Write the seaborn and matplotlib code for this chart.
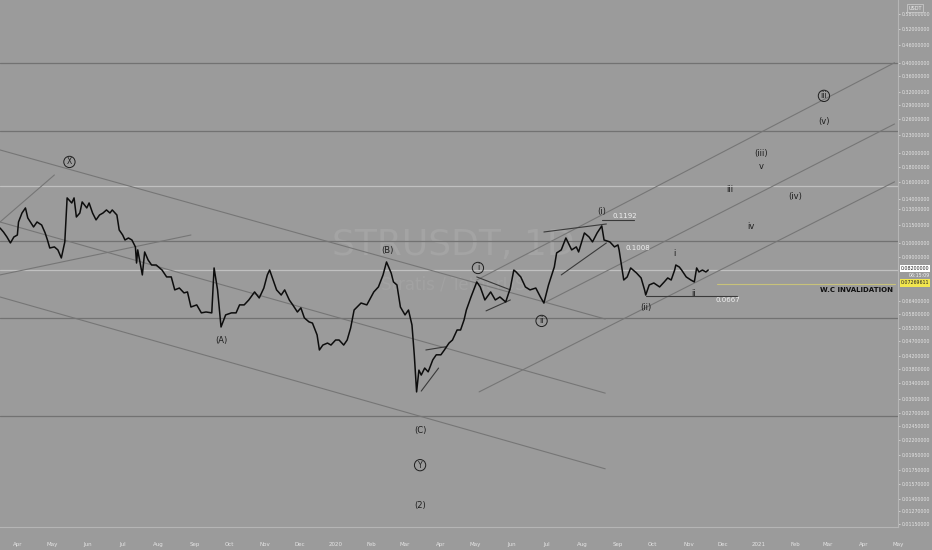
import matplotlib
matplotlib.use("Agg")
import pandas as pd
import matplotlib.pyplot as plt
import matplotlib.transforms as mtrans
import seaborn as sns

dates = [
    "2019-03-17", "2019-03-20", "2019-03-23", "2019-03-26", "2019-03-29", "2019-04-01", "2019-04-02",
    "2019-04-05", "2019-04-08", "2019-04-10", "2019-04-15", "2019-04-18", "2019-04-22", "2019-04-25",
    "2019-04-27", "2019-04-29", "2019-05-03", "2019-05-06", "2019-05-09", "2019-05-12", "2019-05-14",
    "2019-05-18", "2019-05-20", "2019-05-22", "2019-05-25", "2019-05-27", "2019-05-31", "2019-06-02",
    "2019-06-05", "2019-06-08", "2019-06-11", "2019-06-14", "2019-06-17", "2019-06-20", "2019-06-22",
    "2019-06-26", "2019-06-28", "2019-07-01", "2019-07-03", "2019-07-06", "2019-07-09", "2019-07-12",
    "2019-07-13", "2019-07-14", "2019-07-18", "2019-07-20", "2019-07-23", "2019-07-26", "2019-07-30",
    "2019-08-04", "2019-08-08", "2019-08-12", "2019-08-15", "2019-08-19", "2019-08-23", "2019-08-26",
    "2019-08-29", "2019-09-03", "2019-09-07", "2019-09-11", "2019-09-16", "2019-09-18", "2019-09-21",
    "2019-09-24", "2019-09-28", "2019-10-03", "2019-10-07", "2019-10-10", "2019-10-14", "2019-10-18",
    "2019-10-23", "2019-10-27", "2019-10-31", "2019-11-03", "2019-11-05", "2019-11-08", "2019-11-11",
    "2019-11-15", "2019-11-18", "2019-11-22", "2019-11-25", "2019-11-29", "2019-12-02", "2019-12-05",
    "2019-12-09", "2019-12-12", "2019-12-16", "2019-12-18", "2019-12-21", "2019-12-25", "2019-12-28",
    "2020-01-01", "2020-01-04", "2020-01-08", "2020-01-11", "2020-01-14", "2020-01-17", "2020-01-23",
    "2020-01-28", "2020-02-03", "2020-02-07", "2020-02-11", "2020-02-14", "2020-02-18", "2020-02-20",
    "2020-02-23", "2020-02-26", "2020-03-01", "2020-03-04", "2020-03-07", "2020-03-09", "2020-03-11",
    "2020-03-13", "2020-03-15", "2020-03-18", "2020-03-21", "2020-03-25", "2020-03-28", "2020-04-01",
    "2020-04-04", "2020-04-08", "2020-04-11", "2020-04-15", "2020-04-18", "2020-04-21", "2020-04-23",
    "2020-04-27", "2020-05-02", "2020-05-05", "2020-05-09", "2020-05-14", "2020-05-18", "2020-05-22",
    "2020-05-27", "2020-05-31", "2020-06-03", "2020-06-05", "2020-06-09", "2020-06-13", "2020-06-17",
    "2020-06-22", "2020-06-26", "2020-06-29", "2020-07-03", "2020-07-08", "2020-07-10", "2020-07-14",
    "2020-07-18", "2020-07-23", "2020-07-27", "2020-07-29", "2020-08-03", "2020-08-07", "2020-08-10",
    "2020-08-14", "2020-08-18", "2020-08-20", "2020-08-25", "2020-08-29", "2020-09-01", "2020-09-02",
    "2020-09-05", "2020-09-06", "2020-09-09", "2020-09-12", "2020-09-17", "2020-09-21", "2020-09-24",
    "2020-09-25", "2020-09-28", "2020-10-02", "2020-10-07", "2020-10-11", "2020-10-14", "2020-10-17",
    "2020-10-20", "2020-10-21", "2020-10-24", "2020-10-26", "2020-10-30", "2020-11-03", "2020-11-06",
    "2020-11-08", "2020-11-10", "2020-11-13", "2020-11-16", "2020-11-18",
]
prices = [
    0.1122, 0.1088, 0.1047, 0.1000, 0.1047, 0.1063, 0.1175,
    0.1259, 0.1309, 0.1212, 0.1131, 0.1175, 0.1148, 0.1080,
    0.1023, 0.0962, 0.0970, 0.0948, 0.0891, 0.1008, 0.1414,
    0.1360, 0.1414, 0.1221, 0.1259, 0.1371, 0.1309, 0.1360,
    0.1259, 0.1194, 0.1240, 0.1259, 0.1289, 0.1259, 0.1289,
    0.1240, 0.1105, 0.1063, 0.1023, 0.1039, 0.1023, 0.0970,
    0.0857, 0.0948, 0.0782, 0.0933, 0.0877, 0.0844, 0.0844,
    0.0812, 0.0770, 0.0770, 0.0697, 0.0707, 0.0681, 0.0686,
    0.0611, 0.0621, 0.0584, 0.0588, 0.0584, 0.0825, 0.0697,
    0.0524, 0.0575, 0.0584, 0.0584, 0.0621, 0.0621, 0.0645,
    0.0686, 0.0655, 0.0707, 0.0782, 0.0812, 0.0752, 0.0697,
    0.0670, 0.0697, 0.0645, 0.0621, 0.0588, 0.0607, 0.0562,
    0.0545, 0.0540, 0.0493, 0.0439, 0.0456, 0.0463, 0.0456,
    0.0474, 0.0474, 0.0456, 0.0474, 0.0520, 0.0597, 0.0630,
    0.0621, 0.0686, 0.0713, 0.0782, 0.0864, 0.0794, 0.0741,
    0.0724, 0.0611, 0.0575, 0.0597, 0.0532, 0.0423, 0.0318,
    0.0376, 0.0362, 0.0382, 0.0371, 0.0407, 0.0423, 0.0423,
    0.0439, 0.0463, 0.0474, 0.0512, 0.0512, 0.0553, 0.0597,
    0.0660, 0.0741, 0.0713, 0.0645, 0.0686, 0.0645, 0.0660,
    0.0635, 0.0707, 0.0812, 0.0800, 0.0770, 0.0713, 0.0697,
    0.0707, 0.0660, 0.0630, 0.0724, 0.0831, 0.0926, 0.0948,
    0.1039, 0.0948, 0.0970, 0.0933, 0.1080, 0.1047, 0.1008,
    0.1080, 0.1140, 0.1023, 0.1008, 0.0970, 0.0985, 0.0948,
    0.0800, 0.0752, 0.0770, 0.0825, 0.0794, 0.0764, 0.0697,
    0.0670, 0.0724, 0.0735, 0.0713, 0.0741, 0.0764, 0.0752,
    0.0812, 0.0844, 0.0831, 0.0812, 0.0770, 0.0752, 0.0741,
    0.0825, 0.0800, 0.0812, 0.0800, 0.0812,
]

# horizontal levels (price, shade)
levels = [0.40, 0.2367, 0.155, 0.1015, 0.0812, 0.0562, 0.0264]
level_light = [False, False, True, False, True, False, False]

# trend / channel lines: (start date, start price, end date, end price)
trend_lines = [
    ("2019-03-17", 0.2045, "2020-08-21", 0.0557),
    ("2019-03-17", 0.1175, "2020-08-21", 0.0315),
    ("2019-03-17", 0.0660, "2020-08-21", 0.0176),
    ("2019-03-17", 0.1175, "2019-05-03", 0.1687),
    ("2019-03-17", 0.0782, "2019-08-29", 0.1063),
    ("2020-05-02", 0.0752, "2021-04-28", 0.4000),
    ("2020-06-29", 0.0630, "2021-04-28", 0.2497),
    ("2020-05-04", 0.0318, "2021-04-28", 0.1600),
]
short_lines = [
    ("2020-06-29", 0.1088, "2020-08-22", 0.1157),
    ("2020-07-14", 0.0782, "2020-08-22", 0.1000),
    ("2020-08-18", 0.1192, "2020-09-15", 0.1192),
    ("2020-09-25", 0.0667, "2020-12-13", 0.0667),
    ("2020-05-02", 0.0770, "2020-05-31", 0.0697),
    ("2020-05-10", 0.0593, "2020-05-31", 0.0645),
    ("2020-03-15", 0.0320, "2020-03-30", 0.0382),
    ("2020-03-19", 0.0439, "2020-04-05", 0.0450),
]

# wave counts: (text, date, price, circled)
wave_labels = [
    ("X", "2019-05-16", 0.1865, True),
    ("(A)", "2019-09-24", 0.0474, False),
    ("(B)", "2020-02-15", 0.0940, False),
    ("(C)", "2020-03-14", 0.0237, False),
    ("Y", "2020-03-14", 0.0181, True),
    ("(2)", "2020-03-14", 0.0133, False),
    ("i", "2020-05-03", 0.0825, True),
    ("ii", "2020-06-27", 0.0549, True),
    ("(i)", "2020-08-18", 0.1269, False),
    ("(ii)", "2020-09-25", 0.0611, False),
    ("i", "2020-10-20", 0.0919, False),
    ("ii", "2020-11-05", 0.0676, False),
    ("iii", "2020-12-07", 0.1503, False),
    ("iv", "2020-12-25", 0.1131, False),
    ("(iii)", "2021-01-03", 0.1983, False),
    ("v", "2021-01-03", 0.1795, False),
    ("(iv)", "2021-02-01", 0.1424, False),
    ("(v)", "2021-02-26", 0.2537, False),
    ("iii", "2021-02-26", 0.3100, True),
]
level_notes = [
    ("0.1192", "2020-09-07", 0.1230),
    ("0.1008", "2020-09-18", 0.0962),
    ("0.0667", "2020-12-05", 0.0645),
]

price_ticks = [0.58, 0.52, 0.46, 0.40, 0.36, 0.32, 0.29, 0.26, 0.23, 0.20, 0.18, 0.16,
               0.14, 0.13, 0.115, 0.10, 0.09, 0.064, 0.058, 0.052, 0.047, 0.042, 0.038,
               0.034, 0.030, 0.027, 0.0245, 0.022, 0.0195, 0.0175, 0.0157, 0.014,
               0.0127, 0.0115]
month_ticks = pd.date_range("2019-04-01", "2021-05-01", freq="MS")
month_labels = ["Apr", "May", "Jun", "Jul", "Aug", "Sep", "Oct", "Nov", "Dec", "2020",
                "Feb", "Mar", "Apr", "May", "Jun", "Jul", "Aug", "Sep", "Oct", "Nov", "Dec",
                "2021", "Feb", "Mar", "Apr", "May"]

bg = "#9b9b9b"
dark_line = "#727272"
light_line = "#c0c0c0"
axis_text = "#e4e4e4"

sns.set_theme(style="white")
plt.rcParams["font.family"] = ["DejaVu Sans"]

fig = plt.figure(figsize=(9.32, 5.5), dpi=100)
fig.patch.set_facecolor(bg)
ax = fig.add_axes([0, 23 / 550, 898 / 932, 527 / 550])
ax.set_facecolor(bg)

df = pd.DataFrame({"date": pd.to_datetime(dates), "price": prices})

ax.set_yscale("log")
x0, x1 = pd.Timestamp("2019-03-17"), pd.Timestamp("2021-04-28")
ax.set_xlim(x0, x1)
ax.set_ylim(0.01125, 0.648)

# watermark
ax.text(0.505, 0.535, "STRUSDT, 1D", transform=ax.transAxes, ha="center", va="center",
        fontsize=26, color="#a4a4a4", zorder=0)
ax.text(0.505, 0.46, "Stratis / TetherUS", transform=ax.transAxes, ha="center", va="center",
        fontsize=12, color="#a2a2a2", zorder=0)

for lv, light in zip(levels, level_light):
    ax.axhline(lv, color=light_line if light else dark_line, lw=0.9, zorder=1)

for d0, p0, d1, p1 in trend_lines:
    ax.plot([pd.Timestamp(d0), pd.Timestamp(d1)], [p0, p1], color="#767676", lw=0.8, zorder=1)
for d0, p0, d1, p1 in short_lines:
    ax.plot([pd.Timestamp(d0), pd.Timestamp(d1)], [p0, p1], color="#3a3a3a", lw=0.8, zorder=2)

# W.C invalidation level
ax.plot([pd.Timestamp("2020-11-26"), x1], [0.0727, 0.0727], color="#c8c27a", lw=0.8, zorder=2)
ax.text(x1 - pd.Timedelta(days=1), 0.0697, "W.C INVALIDATION", ha="right", va="center",
        fontsize=5, fontweight="bold", color="#111111")

sns.lineplot(data=df, x="date", y="price", color="#0d0d0d", lw=1.1, estimator=None, ax=ax, zorder=3)

for txt, d, p, circled in wave_labels:
    if circled:
        ax.text(pd.Timestamp(d), p, txt, ha="center", va="center", fontsize=5.5, color="#1e1e1e",
                bbox=dict(boxstyle="circle,pad=0.15", fc="none", ec="#1e1e1e", lw=0.7))
    else:
        ax.text(pd.Timestamp(d), p, txt, ha="center", va="center", fontsize=6, color="#1e1e1e")

for txt, d, p in level_notes:
    ax.text(pd.Timestamp(d), p, txt, ha="center", va="center", fontsize=5, color="#f0f0f0")

# axes styling
ax.set_xlabel("")
ax.set_ylabel("")
ax.yaxis.tick_right()
ax.set_yticks(price_ticks)
ax.set_yticklabels([f"{t:.8f}" for t in price_ticks])
ax.minorticks_off()
ax.set_xticks(month_ticks)
ax.set_xticklabels(month_labels)
ax.tick_params(axis="y", labelsize=3.4, colors=axis_text, length=1.5, width=0.5, pad=1.5)
ax.tick_params(axis="x", labelsize=4, colors=axis_text, length=2, width=0.5, pad=9)
for s in ["top", "left"]:
    ax.spines[s].set_visible(False)
ax.spines["right"].set_color("#b5b5b5")
ax.spines["bottom"].set_color("#b5b5b5")
ax.spines["right"].set_linewidth(0.8)
ax.spines["bottom"].set_linewidth(0.8)

# price tags on the right scale
tr = mtrans.blended_transform_factory(ax.transAxes, ax.transData)
ax.text(1.003, 0.0820, "0.08200000", transform=tr, ha="left", va="center", fontsize=3.4,
        color="#222222", bbox=dict(boxstyle="square,pad=0.25", fc="white", ec="none"), clip_on=False)
ax.text(1.012, 0.0780, "06:15:09", transform=tr, ha="left", va="center", fontsize=3.4,
        color="#f4f4f4", clip_on=False)
ax.text(1.003, 0.0735, "0.07269611", transform=tr, ha="left", va="center", fontsize=3.4,
        color="#222222", bbox=dict(boxstyle="square,pad=0.25", fc="#f2e64e", ec="none"), clip_on=False)
fig.text(0.982, 0.985, "USDT", ha="center", va="center", fontsize=3.6, color="#eeeeee",
         bbox=dict(boxstyle="square,pad=0.3", fc=bg, ec="#d0d0d0", lw=0.5))

fig.savefig("out.png", dpi=100, facecolor=bg)
